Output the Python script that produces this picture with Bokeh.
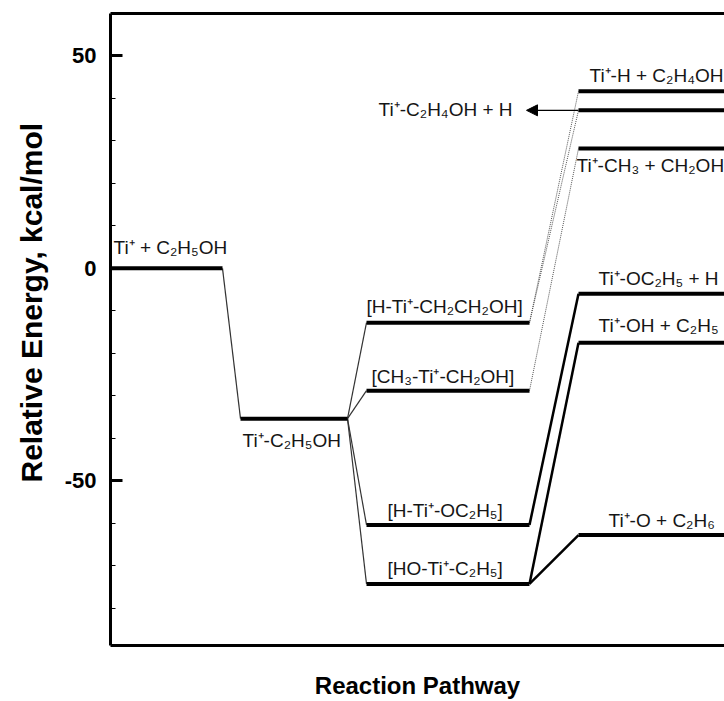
from bokeh.plotting import figure
from bokeh.models import Range1d, FixedTicker, LinearAxis, Arrow, NormalHead, Title, ColumnDataSource
from bokeh.core.properties import value
from bokeh.embed import file_html
from bokeh.resources import INLINE

# ---- data ----
species = ["Ti⁺ + C₂H₅OH", "Ti⁺-C₂H₅OH", "[H-Ti⁺-CH₂CH₂OH]", "[CH₃-Ti⁺-CH₂OH]",
           "[H-Ti⁺-OC₂H₅]", "[HO-Ti⁺-C₂H₅]", "Ti⁺-H + C₂H₄OH", "Ti⁺-C₂H₄OH + H",
           "Ti⁺-CH₃ + CH₂OH", "Ti⁺-OC₂H₅ + H", "Ti⁺-OH + C₂H₅", "Ti⁺-O + C₂H₆"]
energy = [0.0, -35.4, -12.8, -28.8, -60.4, -74.3, 41.7, 37.2, 28.2, -6.0, -17.5, -62.8]
stage = [0, 1, 2, 2, 2, 2, 3, 3, 3, 3, 3, 3]
y_major_ticks = [-50, 0, 50]
y_minor_ticks = [-80, -70, -60, -40, -30, -20, -10, 10, 20, 30, 40]
y_tick_labels = {-50: "-50", 0: "0", 50: "50"}

links_thin = [(0, 1), (1, 2), (1, 3), (1, 4), (1, 5)]
links_dotted = [(2, 6), (2, 7), (3, 8)]
links_thick = [(4, 9), (5, 10), (5, 11)]

# ---- layout (horizontal positions of the pathway stages, label placement) ----
stage_x0 = [0, 130, 256, 468]
stage_x1 = [112, 237, 419, 660]
label_align = ["left"] * 7 + ["right"] + ["left"] * 4
label_x = [3, 132, 256, 261, 277, 277, 479, 402, 466, 488, 488, 498]
label_dy = [-21, 22, -16, -14, -14, -15, -16, -1, 17, -15, -17, -15]
arrow_tip_x = 416

FONT = "Liberation Sans"
LBL_SIZE = "19px"
TXT = "#151515"

p = figure(width=724, height=701, output_backend="svg", toolbar_location=None,
           x_range=Range1d(0, 614), y_range=Range1d(-88.8, 60),
           min_border_left=110, min_border_right=0, min_border_top=13, min_border_bottom=53)
p.outline_line_color = None
p.background_fill_color = "white"
p.border_fill_color = "white"
p.grid.visible = False

# y axis
ya = p.yaxis[0]
ya.ticker = FixedTicker(ticks=y_major_ticks, minor_ticks=y_minor_ticks)
ya.major_label_overrides = y_tick_labels
ya.axis_line_width = 3
ya.axis_line_color = "black"
ya.major_tick_in = 12
ya.major_tick_out = 0
ya.major_tick_line_width = 3
ya.minor_tick_in = 5
ya.minor_tick_out = 0
ya.minor_tick_line_width = 1
ya.major_label_text_font = FONT
ya.major_label_text_font_style = "bold"
ya.major_label_text_font_size = "22px"
ya.major_label_text_color = "black"
ya.major_label_standoff = 14

# x axis (bottom border + title)
xa = p.xaxis[0]
xa.ticker = FixedTicker(ticks=[])
xa.axis_line_width = 3
xa.axis_line_color = "black"
xa.major_tick_in = 0
xa.major_tick_out = 0
xa.minor_tick_in = 0
xa.minor_tick_out = 0
xa.major_label_standoff = 0
xa.axis_label = "Reaction Pathway"
xa.axis_label_text_font = FONT
xa.axis_label_text_font_style = "bold"
xa.axis_label_text_font_size = "24px"
xa.axis_label_text_color = "black"
xa.axis_label_standoff = 26

# top border
ta = LinearAxis(ticker=FixedTicker(ticks=[]), axis_line_width=3, axis_line_color="black",
                major_tick_in=0, major_tick_out=0, minor_tick_in=0, minor_tick_out=0,
                major_label_standoff=0)
p.add_layout(ta, "above")

# y axis title (side title, started a fixed distance above the frame bottom)
yt = Title(text="Relative Energy, kcal/mol", align="left", offset=163, vertical_align="top",
           text_font=FONT, text_font_style="bold", text_font_size="30px", text_color="black")
if "standoff" in yt.properties():
    yt.standoff = 24
p.add_layout(yt, "left")

# connectors
def link_source(links):
    return ColumnDataSource(dict(
        x0=[stage_x1[stage[a]] for a, b in links], y0=[energy[a] for a, b in links],
        x1=[stage_x0[stage[b]] for a, b in links], y1=[energy[b] for a, b in links]))

p.segment("x0", "y0", "x1", "y1", source=link_source(links_thin), line_color="#333333", line_width=1.2)
p.segment("x0", "y0", "x1", "y1", source=link_source(links_dotted), line_color="#555555",
          line_width=1, line_dash="1 1")
p.segment("x0", "y0", "x1", "y1", source=link_source(links_thick), line_color="black", line_width=2.5)

# energy levels
lv = ColumnDataSource(dict(x0=[stage_x0[s] for s in stage], x1=[stage_x1[s] for s in stage],
                           y=energy))
p.segment("x0", "y", "x1", "y", source=lv, line_color="black", line_width=4, line_cap="butt")

# arrow to side label
p.add_layout(Arrow(end=NormalHead(size=11, fill_color="black", line_color="black"),
                   x_start=stage_x0[stage[7]], y_start=energy[7], x_end=arrow_tip_x, y_end=energy[7],
                   line_color="black", line_width=1.2))

# species labels
for align in ["left", "right"]:
    idx = [i for i, a in enumerate(label_align) if a == align]
    src = ColumnDataSource(dict(x=[label_x[i] for i in idx], y=[energy[i] for i in idx],
                                t=[species[i] for i in idx], dy=[label_dy[i] for i in idx]))
    p.text("x", "y", text="t", source=src, text_font=value(FONT), text_font_size=LBL_SIZE,
           text_color=TXT, text_baseline="alphabetic", text_align=align, y_offset="dy")

open("out.html", "w").write(file_html(p, INLINE))
